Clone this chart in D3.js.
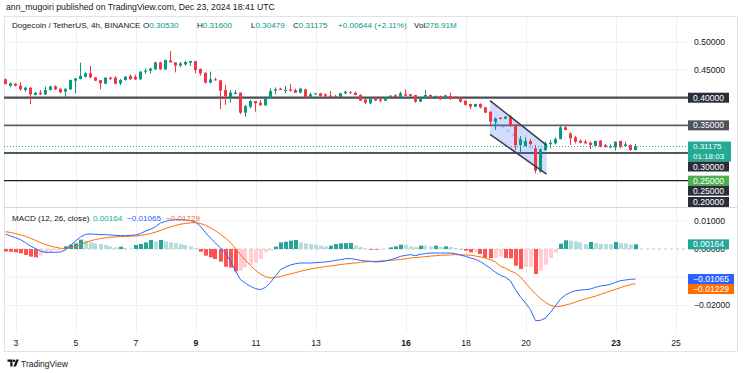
<!DOCTYPE html>
<html><head><meta charset="utf-8">
<script src="https://cdn.jsdelivr.net/npm/d3@7"></script>
<style>
body{margin:0;background:#fff;}
svg{display:block;font-family:"Liberation Sans",Arial,sans-serif;}
</style>
</head><body>
<svg id="c" width="744" height="373"></svg>
<script>
// ---------- DATA ----------
const startTime = Date.UTC(2024, 11, 2, 16); // first visible 4h candle
const barHours = 4;

const opens = [0.4332,0.4217,0.4253,0.4217,0.4139,0.4181,0.4049,0.4091,0.4061,0.4139,
 0.4205,0.4163,0.4109,0.4151,0.4308,0.4338,0.4380,0.4440,0.4368,0.4320,
 0.4253,0.4362,0.4362,0.4260,0.4320,0.4392,0.4380,0.4332,0.4471,0.4489,
 0.4513,0.4639,0.4513,0.4675,0.4639,0.4579,0.4603,0.4633,0.4663,0.4519,
 0.4452,0.4272,0.4332,0.4314,0.4139,0.4000,0.4067,0.4091,0.3729,0.3838,
 0.3940,0.3910,0.3862,0.4000,0.4127,0.4163,0.4127,0.4151,0.4139,0.4091,
 0.4151,0.4018,0.4061,0.4079,0.4061,0.4036,0.4030,0.4018,0.4079,0.4097,
 0.4091,0.4049,0.3970,0.3898,0.3976,0.3970,0.3946,0.4018,0.4043,0.4006,
 0.4061,0.4061,0.4049,0.3928,0.4001,0.4049,0.4007,0.4031,0.3982,0.4031,
 0.4019,0.4001,0.3946,0.3886,0.3838,0.3886,0.3826,0.3747,0.3566,0.3639,
 0.3621,0.3657,0.3524,0.3144,0.3126,0.3217,0.3084,0.2662,0.3054,0.3162,
 0.3174,0.3253,0.3464,0.3355,0.3283,0.3223,0.3205,0.3186,0.3126,0.3223,
 0.3144,0.3102,0.3102,0.3217,0.3126,0.3144,0.3053];
const highs = [0.4345,0.4278,0.4265,0.4278,0.4199,0.4185,0.4100,0.4139,0.4199,0.4215,
 0.4223,0.4165,0.4165,0.4330,0.4355,0.4633,0.4458,0.4573,0.4375,0.4322,
 0.4370,0.4380,0.4392,0.4338,0.4390,0.4422,0.4416,0.4480,0.4531,0.4543,
 0.4650,0.4650,0.4690,0.4844,0.4641,0.4645,0.4669,0.4669,0.4665,0.4531,
 0.4455,0.4471,0.4362,0.4316,0.4229,0.4139,0.4139,0.4097,0.3868,0.3958,
 0.3942,0.3958,0.4018,0.4169,0.4187,0.4181,0.4211,0.4247,0.4163,0.4181,
 0.4163,0.4091,0.4085,0.4091,0.4079,0.4121,0.4049,0.4085,0.4127,0.4121,
 0.4109,0.4061,0.3972,0.3982,0.4006,0.4000,0.4006,0.4045,0.4061,0.4109,
 0.4151,0.4067,0.4051,0.4006,0.4139,0.4055,0.4040,0.4037,0.4049,0.4091,
 0.4025,0.4007,0.3950,0.3890,0.3892,0.3898,0.3832,0.3750,0.3639,0.3645,
 0.3669,0.3687,0.3526,0.3307,0.3283,0.3253,0.3144,0.3084,0.3205,0.3235,
 0.3283,0.3494,0.3494,0.3373,0.3307,0.3247,0.3235,0.3205,0.3223,0.3235,
 0.3162,0.3156,0.3207,0.3223,0.3205,0.3156,0.3160];
const lows = [0.4240,0.4187,0.4205,0.4127,0.4103,0.3886,0.4040,0.4049,0.4049,0.4130,
 0.4139,0.4079,0.4018,0.4140,0.4079,0.4330,0.4362,0.4350,0.4300,0.4151,
 0.4245,0.4320,0.4241,0.4229,0.4310,0.4320,0.4320,0.4325,0.4428,0.4440,
 0.4505,0.4505,0.4505,0.4635,0.4458,0.4549,0.4579,0.4573,0.4440,0.4398,
 0.4260,0.4260,0.4310,0.3795,0.3868,0.3910,0.4061,0.3705,0.3657,0.3808,
 0.3747,0.3856,0.3856,0.3988,0.4061,0.4135,0.4079,0.4109,0.4088,0.4079,
 0.4003,0.4006,0.4055,0.4006,0.4006,0.4006,0.4006,0.4012,0.4061,0.4075,
 0.4045,0.3940,0.3886,0.3880,0.3940,0.3916,0.3940,0.4000,0.4006,0.4000,
 0.4030,0.4024,0.3910,0.3920,0.3989,0.4000,0.4000,0.3965,0.3976,0.3958,
 0.3995,0.3910,0.3862,0.3790,0.3832,0.3808,0.3723,0.3506,0.3416,0.3609,
 0.3609,0.3476,0.3054,0.3006,0.3120,0.3138,0.2632,0.2644,0.3036,0.3084,
 0.3156,0.3247,0.3410,0.3144,0.3174,0.3174,0.3170,0.3066,0.3120,0.3102,
 0.3096,0.3084,0.3042,0.3084,0.3114,0.3042,0.30479];
const closes = [0.4247,0.4260,0.4217,0.4151,0.4181,0.4061,0.4091,0.4061,0.4139,0.4205,
 0.4151,0.4097,0.4163,0.4320,0.4350,0.4392,0.4440,0.4368,0.4308,0.4260,
 0.4362,0.4338,0.4253,0.4320,0.4380,0.4338,0.4332,0.4471,0.4489,0.4525,
 0.4639,0.4513,0.4681,0.4639,0.4579,0.4621,0.4645,0.4663,0.4501,0.4440,
 0.4272,0.4332,0.4314,0.4127,0.4030,0.4091,0.4091,0.3729,0.3850,0.3940,
 0.3898,0.3862,0.4000,0.4121,0.4151,0.4139,0.4139,0.4127,0.4091,0.4163,
 0.4006,0.4061,0.4079,0.4030,0.4036,0.4018,0.4018,0.4079,0.4109,0.4079,
 0.4049,0.3946,0.3910,0.3976,0.3946,0.3946,0.4000,0.4036,0.4012,0.4079,
 0.4036,0.4030,0.3928,0.4000,0.4049,0.4007,0.4031,0.3970,0.4043,0.3982,
 0.4001,0.3928,0.3868,0.3838,0.3886,0.3826,0.3729,0.3566,0.3627,0.3615,
 0.3657,0.3506,0.3144,0.3247,0.3217,0.3162,0.2680,0.3066,0.3174,0.3186,
 0.3253,0.3464,0.3416,0.3265,0.3205,0.3186,0.3174,0.3144,0.3217,0.3114,
 0.3114,0.3126,0.3205,0.3114,0.3156,0.3054,0.31175];
const lastChange = 0.00644, lastChangePct = 2.11, lastVolume = "276.91M", countdown = "01:18:03";

// MACD (12, 26, close) — values in thousandths
const macdLine = [5.32,4.61,4.02,3.31,2.25,1.06,0.12,-0.71,-1.18,-1.18,
 -1.18,-1.06,-0.24,1.30,2.84,4.26,5.20,5.32,5.20,5.08,
 5.08,4.96,4.85,4.73,4.73,4.85,4.96,5.44,6.38,6.97,
 7.92,9.22,9.81,10.28,10.40,10.40,10.28,10.05,9.57,8.04,
 5.79,3.90,2.13,0.35,-1.42,-4.37,-7.80,-10.87,-12.17,-13.24,
 -14.07,-14.42,-13.59,-11.82,-9.57,-7.33,-6.38,-5.67,-5.20,-4.96,
 -4.96,-4.96,-4.85,-4.73,-4.61,-4.37,-4.02,-3.78,-3.43,-3.40,
 -3.66,-4.02,-4.26,-4.37,-4.61,-4.49,-4.26,-3.78,-3.31,-2.60,
 -2.25,-2.01,-2.36,-1.89,-1.65,-1.42,-1.42,-1.42,-1.42,-1.42,
 -1.65,-2.13,-2.60,-3.19,-3.66,-4.49,-5.67,-6.86,-8.27,-9.34,
 -10.05,-11.35,-14.42,-17.02,-19.15,-21.51,-25.41,-25.30,-24.47,-22.46,
 -20.09,-17.73,-16.31,-15.37,-14.78,-14.54,-14.42,-14.18,-13.59,-13.12,
 -12.88,-12.53,-11.82,-11.23,-10.99,-10.76,-10.65];
const signalLine = [6.15,5.84,5.48,5.05,4.49,3.80,3.06,2.31,1.61,1.05,
 0.60,0.27,0.17,0.40,0.89,1.56,2.29,2.90,3.36,3.70,
 3.98,4.18,4.31,4.39,4.46,4.54,4.62,4.78,5.10,5.47,
 5.96,6.61,7.25,7.86,8.37,8.78,9.08,9.27,9.33,9.07,
 8.41,7.51,6.43,5.21,3.88,2.23,0.22,-2.00,-4.03,-5.87,
 -7.51,-8.89,-9.83,-10.23,-10.10,-9.80,-9.30,-8.80,-8.40,-7.90,
 -7.50,-7.10,-6.80,-6.50,-6.20,-6.00,-5.80,-5.50,-5.30,-5.10,
 -4.95,-4.75,-4.55,-4.40,-4.37,-4.26,-4.14,-4.00,-3.90,-3.70,
 -3.50,-3.20,-3.00,-2.90,-2.70,-2.50,-2.40,-2.20,-2.20,-2.10,
 -2.00,-2.10,-2.10,-2.20,-2.50,-2.80,-3.20,-3.80,-4.60,-6.10,
 -6.80,-7.80,-8.50,-9.90,-12.00,-14.00,-16.00,-17.60,-19.00,-20.00,
 -20.40,-20.30,-19.90,-19.40,-18.80,-18.20,-17.70,-17.20,-16.70,-16.10,
 -15.50,-14.90,-14.30,-13.70,-13.10,-12.60,-12.29];
const histogram = [-0.90,-0.98,-1.18,-1.54,-2.13,-2.72,-2.96,-2.36,-1.54,-0.95,
 -0.47,-0.12,0.95,1.54,2.01,3.31,2.96,2.36,2.01,1.77,
 1.42,0.95,0.59,0.83,0.35,0.06,1.42,1.77,2.36,3.19,
 2.72,3.19,2.72,2.36,2.13,1.77,1.42,0.95,0.35,-0.95,
 -2.36,-2.96,-3.55,-4.49,-6.30,-6.60,-7.92,-7.68,-6.50,-5.67,
 -4.73,-3.55,-1.18,-0.59,0.83,2.36,2.60,2.96,3.19,2.36,
 2.01,1.77,1.54,1.18,0.95,1.18,1.77,2.01,2.10,2.15,
 1.30,0.71,0.24,-0.24,-0.26,-0.24,-0.12,0.59,0.95,1.54,
 1.50,0.95,0.71,1.18,1.18,0.95,1.18,0.71,0.95,0.71,
 0.35,-0.05,-0.59,-1.18,-1.12,-1.77,-3.10,-3.20,-3.15,-2.60,
 -3.19,-3.30,-5.91,-7.09,-6.38,-6.30,-8.87,-7.68,-5.56,-3.19,
 -1.18,1.89,3.07,3.00,2.72,2.36,1.77,2.48,2.13,1.77,
 1.77,1.75,2.48,2.13,2.01,1.60,1.64];

const tickDays = [3,5,7,9,11,13,16,18,20,23,25];
const boldDays = [9,16,23];
const priceTicks = [0.50,0.45,0.40,0.35,0.30,0.25];
const levelLines = [0.40,0.35,0.30,0.25];
const macdTicks = [0.01,0,-0.01,-0.02];
// falling channel drawing: [bar index, upper price, lower price]
const channelStart = [96.9, 0.3946, 0.3337];
const channelEnd = [108.2, 0.3144, 0.2620];

// ---------- SETUP ----------
const svg = d3.select("#c");
const T = i => new Date(startTime + i * barHours * 3600e3);
const n = closes.length;
const x = d3.scaleTime().domain([T(0), T(n - 1)]).range([5.5, 635.5]);
const yP = d3.scaleLinear().domain([0.2, 0.5]).range([208.3, 42.4]);
const yM = d3.scaleLinear().domain([-0.02, 0.01]).range([305.4, 220.8]);
const PL = 4, PR = 688, PT = 17, PB = 207, MB = 333;
const ink = "#131722", up = "#089981", dn = "#f23645", grid = "#eef0f4";
const AX = 8.6; // axis font size

// header
svg.append("text").attr("x", 6).attr("y", 10).attr("font-size", 8.7).attr("fill", ink)
  .text("ann_mugoiri published on TradingView.com, Dec 23, 2024 18:41 UTC");

// frame
svg.append("rect").attr("x", 4.5).attr("y", 16.5).attr("width", 733).attr("height", 335)
  .attr("fill", "none").attr("stroke", "#e0e3eb");

const defs = svg.append("defs");
defs.append("clipPath").attr("id", "cp").append("rect").attr("x", PL).attr("y", PT).attr("width", PR - PL).attr("height", PB - PT);
defs.append("clipPath").attr("id", "cm").append("rect").attr("x", PL).attr("y", PB + 0.5).attr("width", PR - PL).attr("height", MB - PB);

// vertical grid
const tickDates = tickDays.map(d => new Date(Date.UTC(2024, 11, d)));
svg.append("g").selectAll("line").data(tickDates).join("line")
  .attr("x1", d => Math.round(x(d)) + 0.5).attr("x2", d => Math.round(x(d)) + 0.5)
  .attr("y1", PT).attr("y2", MB).attr("stroke", grid);
// horizontal price grid
svg.append("g").selectAll("line").data(priceTicks).join("line")
  .attr("x1", PL).attr("x2", PR).attr("y1", d => yP(d)).attr("y2", d => yP(d)).attr("stroke", grid);
// macd grid
svg.append("g").selectAll("line").data(macdTicks.filter(v => v !== 0)).join("line")
  .attr("x1", PL).attr("x2", PR).attr("y1", d => yM(d)).attr("y2", d => yM(d)).attr("stroke", grid);

// pane separator
svg.append("line").attr("x1", 4).attr("x2", 737).attr("y1", PB + 0.5).attr("y2", PB + 0.5).attr("stroke", "#d6d9e0");

// ---------- PRICE PANE ----------
const gp = svg.append("g").attr("clip-path", "url(#cp)");

const levelStyle = {0.40: ["#4a4d57", 2.2], 0.35: ["#5d606b", 1.6], 0.30: ["#1e222d", 1.3], 0.25: ["#1e222d", 1.3]};
gp.selectAll("line.lv").data(levelLines).join("line").attr("class", "lv")
  .attr("x1", PL).attr("x2", PR).attr("y1", d => yP(d)).attr("y2", d => yP(d))
  .attr("stroke", d => levelStyle[d][0]).attr("stroke-width", d => levelStyle[d][1]);

// channel
const cx0 = x(T(channelStart[0])), cx1 = x(T(channelEnd[0]));
gp.append("path").attr("d", `M${cx0},${yP(channelStart[1])}L${cx1},${yP(channelEnd[1])}L${cx1},${yP(channelEnd[2])}L${cx0},${yP(channelStart[2])}Z`)
  .attr("fill", "rgba(41,98,255,0.22)");
gp.append("line").attr("x1", cx0).attr("x2", cx1)
  .attr("y1", yP((channelStart[1] + channelStart[2]) / 2)).attr("y2", yP((channelEnd[1] + channelEnd[2]) / 2))
  .attr("stroke", "#2962ff").attr("stroke-opacity", 0.6).attr("stroke-dasharray", "3,4");

// candles
const idx = d3.range(n);
const cg = gp.append("g");
cg.selectAll("line").data(idx).join("line")
  .attr("x1", i => x(T(i))).attr("x2", i => x(T(i)))
  .attr("y1", i => yP(highs[i])).attr("y2", i => yP(lows[i]))
  .attr("stroke", i => closes[i] >= opens[i] ? up : dn);
cg.selectAll("rect").data(idx).join("rect")
  .attr("x", i => x(T(i)) - 1.5).attr("width", 3)
  .attr("y", i => yP(Math.max(opens[i], closes[i])))
  .attr("height", i => Math.max(1, Math.abs(yP(opens[i]) - yP(closes[i]))))
  .attr("fill", i => closes[i] >= opens[i] ? up : dn);

gp.append("line").attr("x1", cx0).attr("x2", cx1).attr("y1", yP(channelStart[1])).attr("y2", yP(channelEnd[1]))
  .attr("stroke", "#3b3e48").attr("stroke-width", 1.5);
gp.append("line").attr("x1", cx0).attr("x2", cx1).attr("y1", yP(channelStart[2])).attr("y2", yP(channelEnd[2]))
  .attr("stroke", "#3b3e48").attr("stroke-width", 1.5);

// last price dotted line
const lastClose = closes[n - 1];
gp.append("line").attr("x1", PL).attr("x2", PR).attr("y1", yP(lastClose)).attr("y2", yP(lastClose))
  .attr("stroke", "#22ab94").attr("stroke-dasharray", "1,2");

// legend
const LF = 8.1;
const leg = svg.append("text").attr("y", 28).attr("font-size", LF).attr("fill", ink);
leg.append("tspan").attr("x", 12).text("Dogecoin / TetherUS, 4h, BINANCE");
const ohlc = [["O", opens[n-1], 143], ["H", highs[n-1], 197], ["L", lows[n-1], 251], ["C", lastClose, 293]];
ohlc.forEach(([k, v, px]) => {
  leg.append("tspan").attr("x", px).text(k);
  leg.append("tspan").attr("fill", up).text(v.toFixed(5));
});
leg.append("tspan").attr("x", 338).attr("fill", up).text("+" + lastChange.toFixed(5) + " (+" + lastChangePct.toFixed(2) + "%)");
leg.append("tspan").attr("x", 414).text("Vol");
leg.append("tspan").attr("fill", up).text(lastVolume);

// price axis plain labels (those not covered by a label box)
svg.append("g").selectAll("text").data(priceTicks.filter(d => !levelLines.includes(d))).join("text")
  .attr("x", 694).attr("y", d => yP(d)).attr("dy", "0.35em").attr("font-size", AX).attr("fill", ink)
  .text(d => d.toFixed(5));

const boxes = [
  {v: 0.40, bg: "#2a2e39", lines: ["0.40000"]},
  {v: 0.35, bg: "#50535e", lines: ["0.35000"]},
  {v: lastClose, bg: "#22ab94", lines: [lastClose.toFixed(5), countdown], w: 43},
  {v: 0.30, bg: "#2a2e39", lines: ["0.30000"]},
  {v: 0.25, bg: "#4caf50", lines: ["0.25000"]},
  {v: 0.25, bg: "#2a2e39", lines: ["0.25000"]},
  {v: 0.20, bg: "#2a2e39", lines: ["0.20000"]}
];
function layout(list, scale, bottom) {
  list.forEach(b => { b.h = 10 * b.lines.length; b.top = scale(b.v) - 5; });
  for (let k = 1; k < list.length; k++) if (list[k].top < list[k-1].top + list[k-1].h) list[k].top = list[k-1].top + list[k-1].h;
  for (let k = list.length - 1; k >= 0; k--) {
    const lim = k === list.length - 1 ? bottom : list[k+1].top;
    if (list[k].top + list[k].h > lim) list[k].top = lim - list[k].h;
  }
}
function drawBoxes(list) {
  const g = svg.append("g");
  list.forEach(b => {
    g.append("rect").attr("x", 688).attr("y", b.top).attr("width", b.w || 41).attr("height", b.h).attr("fill", b.bg);
    const fs = b.lines.length > 1 ? 8 : AX;
    b.lines.forEach((t, j) => g.append("text").attr("x", 693).attr("y", b.top + 5 + j * 9.6).attr("dy", "0.35em")
      .attr("font-size", fs).attr("fill", "#fff").text(t));
  });
}
layout(boxes, yP, PB);
drawBoxes(boxes);

// ---------- MACD PANE ----------
const gm = svg.append("g").attr("clip-path", "url(#cm)");
gm.append("line").attr("x1", PL).attr("x2", PR).attr("y1", yM(0)).attr("y2", yM(0))
  .attr("stroke", "#c3c6ce").attr("stroke-dasharray", "3,3");
const histColor = i => {
  const h = histogram[i], p = i > 0 ? histogram[i-1] : Infinity;
  if (h >= 0) return p < h ? "#26a69a" : "#b2dfdb";
  return p < h ? "#ffcdd2" : "#ff5252";
};
gm.append("g").selectAll("rect").data(idx).join("rect")
  .attr("x", i => Math.round(x(T(i)) - 2)).attr("width", 4)
  .attr("y", i => yM(Math.max(0, histogram[i] / 1000)))
  .attr("height", i => Math.abs(yM(histogram[i] / 1000) - yM(0)))
  .attr("fill", histColor);
const ln = arr => d3.line().x(i => x(T(i))).y(i => yM(arr[i] / 1000))(idx);
gm.append("path").attr("d", ln(signalLine)).attr("fill", "none").attr("stroke", "#ff6d00").attr("stroke-width", 1);
gm.append("path").attr("d", ln(macdLine)).attr("fill", "none").attr("stroke", "#2962ff").attr("stroke-width", 1);

// macd legend
const ml = svg.append("text").attr("y", 221).attr("font-size", LF).attr("fill", ink);
ml.append("tspan").attr("x", 12).text("MACD (12, 26, close)");
const fmt = v => (v < 0 ? "\u2212" : "") + Math.abs(v / 1000).toFixed(5);
ml.append("tspan").attr("x", 93).attr("fill", "#22ab94").text(fmt(histogram[n-1]));
ml.append("tspan").attr("x", 127).attr("fill", "#2962ff").text(fmt(macdLine[n-1]));
ml.append("tspan").attr("x", 166).attr("fill", "#ff6d00").text(fmt(signalLine[n-1]));

// macd axis plain labels (-0.01 is hidden behind the line-value boxes)
svg.append("g").selectAll("text").data(macdTicks.filter(d => d !== -0.01)).join("text")
  .attr("x", 694).attr("y", d => yM(d)).attr("dy", "0.35em").attr("font-size", AX).attr("fill", ink)
  .text(d => (d < 0 ? "\u2212" : "") + Math.abs(d).toFixed(5));
const mboxes = [
  {v: histogram[n-1] / 1000, bg: "#26a69a", lines: [fmt(histogram[n-1])]},
  {v: macdLine[n-1] / 1000, bg: "#2962ff", lines: [fmt(macdLine[n-1])], w: 46},
  {v: signalLine[n-1] / 1000, bg: "#ff6d00", lines: [fmt(signalLine[n-1])], w: 46}
];
layout(mboxes, yM, MB);
drawBoxes(mboxes);

// ---------- TIME AXIS ----------
const xa = svg.append("g").attr("transform", `translate(0,${MB})`)
  .call(d3.axisBottom(x).tickValues(tickDates).tickSize(0).tickPadding(7).tickFormat(d => d.getUTCDate()));
xa.select(".domain").remove();
xa.selectAll("text").attr("font-size", AX).attr("fill", ink)
  .attr("font-family", "'Liberation Sans', Arial, sans-serif")
  .attr("font-weight", d => boldDays.includes(d.getUTCDate()) ? "bold" : "normal");

// logo
const lg = svg.append("g").attr("fill", ink);
lg.append("path").attr("d", "M7.5,359.5h5v7h-2.2v-4.8h-2.8z");
lg.append("circle").attr("cx", 14).attr("cy", 360.8).attr("r", 1.3);
lg.append("path").attr("d", "M16.2,359.5h2.6l-2.8,7h-2.6z");
lg.append("text").attr("x", 21).attr("y", 366.5).attr("font-size", 8.5).attr("fill", ink).text("TradingView");
</script>
</body></html>
